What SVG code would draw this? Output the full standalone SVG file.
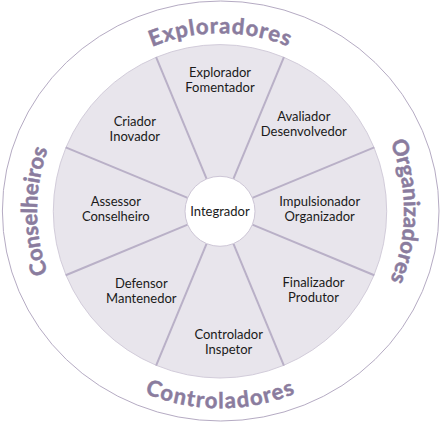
<svg xmlns="http://www.w3.org/2000/svg" xmlns:xlink="http://www.w3.org/1999/xlink" width="441" height="423" viewBox="0 0 441 423">
<style>
.lbl{font-family:Lato,"Liberation Sans",sans-serif;font-size:13px;fill:#1a1a1a;text-anchor:middle}
.grp{font-family:Lato,"Open Sans",sans-serif;font-weight:700;font-size:22px;fill:#8a7c9e;stroke:#8a7c9e;stroke-width:0.5px}
.spoke{stroke:#b9b0c7;stroke-width:2;fill:none}
</style>
<defs>
<path id="pTop" d="M 42.5 211.3 A 178 178 0 0 1 398.5 211.3"/>
<path id="pBot" d="M 23.5 211.3 A 197 197 0 0 0 417.5 211.3"/>
<path id="pRight" d="M 220.5 27.8 A 183.5 183.5 0 0 1 220.5 394.8"/>
<path id="pLeft" d="M 220.5 394.8 A 183.5 183.5 0 0 1 220.5 27.8"/>
</defs>
<rect width="441" height="423" fill="#ffffff"/>
<ellipse cx="220.7" cy="211" rx="218.3" ry="210" fill="#ffffff" stroke="#b5abc3" stroke-width="1"/>
<circle cx="220" cy="211.3" r="166.7" fill="#e8e5ec" stroke="#d2ccda" stroke-width="1"/>
<g id="spokes">
<line class="spoke" x1="206.61" y1="178.96" x2="156.09" y2="57.01"/>
<line class="spoke" x1="233.39" y1="178.96" x2="283.91" y2="57.01"/>
<line class="spoke" x1="252.34" y1="197.91" x2="374.29" y2="147.39"/>
<line class="spoke" x1="252.34" y1="224.69" x2="374.29" y2="275.21"/>
<line class="spoke" x1="233.39" y1="243.64" x2="283.91" y2="365.59"/>
<line class="spoke" x1="206.61" y1="243.64" x2="156.09" y2="365.59"/>
<line class="spoke" x1="187.66" y1="224.69" x2="65.71" y2="275.21"/>
<line class="spoke" x1="187.66" y1="197.91" x2="65.71" y2="147.39"/>
</g>
<g id="integrador">
<circle cx="220" cy="211.3" r="35" fill="#ffffff" stroke="#cdc6d6" stroke-width="1"/>
<text class="lbl" x="220" y="215.7">Integrador</text>
</g>
<g id="explorador"><text class="lbl" x="220" y="76.7">Explorador</text><text class="lbl" x="220" y="91.7">Fomentador</text></g>
<g id="avaliador"><text class="lbl" x="303.8" y="120.7">Avaliador</text><text class="lbl" x="303.8" y="135.7">Desenvolvedor</text></g>
<g id="impulsionador"><text class="lbl" x="319.7" y="205.7">Impulsionador</text><text class="lbl" x="319.7" y="220.7">Organizador</text></g>
<g id="finalizador"><text class="lbl" x="313.5" y="286.7">Finalizador</text><text class="lbl" x="313.5" y="301.7">Produtor</text></g>
<g id="controlador"><text class="lbl" x="228.7" y="339">Controlador</text><text class="lbl" x="228.7" y="354">Inspetor</text></g>
<g id="defensor"><text class="lbl" x="141.3" y="287.7">Defensor</text><text class="lbl" x="141.3" y="302.7">Mantenedor</text></g>
<g id="assessor"><text class="lbl" x="115.8" y="205.7">Assessor</text><text class="lbl" x="115.8" y="220.7">Conselheiro</text></g>
<g id="criador"><text class="lbl" x="134.8" y="125.7">Criador</text><text class="lbl" x="134.8" y="140.7">Inovador</text></g>
<g id="exploradores"><text class="grp" text-anchor="middle" letter-spacing="1"><textPath xlink:href="#pTop" href="#pTop" startOffset="50%">Exploradores</textPath></text></g>
<g id="controladores"><text class="grp" text-anchor="middle" letter-spacing="1.3"><textPath xlink:href="#pBot" href="#pBot" startOffset="50%">Controladores</textPath></text></g>
<g id="organizadores"><text class="grp" text-anchor="middle" letter-spacing="0"><textPath xlink:href="#pRight" href="#pRight" startOffset="50%">Organizadores</textPath></text></g>
<g id="conselheiros"><text class="grp" text-anchor="middle" letter-spacing="0"><textPath xlink:href="#pLeft" href="#pLeft" startOffset="50%">Conselheiros</textPath></text></g>
</svg>
